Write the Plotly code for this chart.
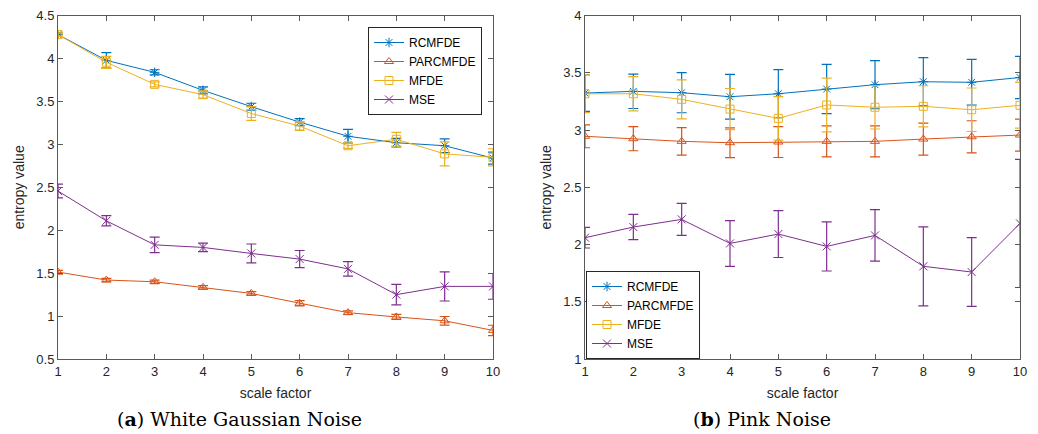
import plotly.graph_objects as go

scale = list(range(1, 11))

# (a) White Gaussian Noise
wgn_rcmfde = [4.28, 3.98, 3.84, 3.63, 3.44, 3.26, 3.095, 3.02, 2.985, 2.84]
wgn_rcmfde_err = [0.02, 0.09, 0.03, 0.04, 0.04, 0.04, 0.08, 0.05, 0.08, 0.07]
wgn_parcmfde = [1.513, 1.42, 1.40, 1.335, 1.264, 1.15, 1.04, 0.99, 0.945, 0.833]
wgn_parcmfde_err = [0.02, 0.02, 0.02, 0.02, 0.02, 0.03, 0.02, 0.03, 0.05, 0.06]
wgn_mfde = [4.28, 3.957, 3.70, 3.58, 3.36, 3.214, 2.985, 3.06, 2.89, 2.85]
wgn_mfde_err = [0.02, 0.07, 0.03, 0.04, 0.08, 0.05, 0.03, 0.08, 0.14, 0.10]
wgn_mse = [2.457, 2.11, 1.83, 1.80, 1.73, 1.664, 1.55, 1.25, 1.346, 1.346]
wgn_mse_err = [0.08, 0.06, 0.09, 0.05, 0.11, 0.10, 0.085, 0.12, 0.17, 0.15]

# (b) Pink Noise
pink_rcmfde = [3.324, 3.339, 3.327, 3.292, 3.318, 3.359, 3.397, 3.423, 3.418, 3.46]
pink_rcmfde_err = [0.16, 0.15, 0.175, 0.195, 0.21, 0.215, 0.21, 0.21, 0.2, 0.185]
pink_parcmfde = [2.946, 2.925, 2.902, 2.89, 2.896, 2.902, 2.902, 2.922, 2.942, 2.957]
pink_parcmfde_err = [0.10, 0.105, 0.12, 0.13, 0.135, 0.135, 0.135, 0.14, 0.14, 0.14]
pink_mfde = [3.318, 3.318, 3.269, 3.184, 3.103, 3.22, 3.20, 3.208, 3.178, 3.217]
pink_mfde_err = [0.165, 0.15, 0.17, 0.18, 0.19, 0.235, 0.19, 0.18, 0.19, 0.20]
pink_mse = [2.06, 2.153, 2.22, 2.01, 2.092, 1.984, 2.08, 1.81, 1.76, 2.185]
pink_mse_err = [0.09, 0.11, 0.14, 0.20, 0.205, 0.215, 0.225, 0.345, 0.30, 0.56]

names = ["RCMFDE", "PARCMFDE", "MFDE", "MSE"]
colors = ["#0072BD", "#D95319", "#EDB120", "#7E2F8E"]
symbols = ["asterisk-open", "triangle-up-open", "square-open", "x-thin-open"]

left_series = [(wgn_rcmfde, wgn_rcmfde_err), (wgn_parcmfde, wgn_parcmfde_err),
               (wgn_mfde, wgn_mfde_err), (wgn_mse, wgn_mse_err)]
right_series = [(pink_rcmfde, pink_rcmfde_err), (pink_parcmfde, pink_parcmfde_err),
                (pink_mfde, pink_mfde_err), (pink_mse, pink_mse_err)]

fig = go.Figure()


def add_series(series, xa, ya, leg):
    for i, (vals, errs) in enumerate(series):
        fig.add_trace(go.Scatter(
            x=scale, y=vals, name=names[i], mode="lines+markers",
            line=dict(color=colors[i], width=1),
            marker=dict(symbol=symbols[i], size=8, color=colors[i],
                        line=dict(color=colors[i], width=1)),
            error_y=dict(type="data", array=errs, visible=True, color=colors[i],
                         thickness=1.2, width=5),
            xaxis=xa, yaxis=ya, legend=leg))


add_series(left_series, "x", "y", "legend")
add_series(right_series, "x2", "y2", "legend2")

W, H = 1038, 434
ydom = [1 - 359 / H, 1 - 15.7 / H]
axis_common = dict(
    showline=True, linecolor="#5a5a5a", linewidth=1, mirror="ticks",
    ticks="inside", ticklen=5, tickcolor="#5a5a5a", showgrid=False,
    zeroline=False, automargin=False,
    tickfont=dict(family="Liberation Sans", size=13, color="#262626"),
)

titlefont = dict(family="Liberation Sans", size=14, color="#262626")
legfont = dict(family="Liberation Sans", size=12, color="#000000")

fig.update_layout(
    width=W, height=H,
    margin=dict(l=0, r=0, t=0, b=0, pad=0, autoexpand=False),
    paper_bgcolor="white", plot_bgcolor="white",
    xaxis=dict(domain=[58 / W, 493 / W], range=[1, 10], tickvals=scale,
               title=dict(text="scale factor", font=titlefont, standoff=10),
               anchor="y", **axis_common),
    yaxis=dict(domain=ydom, range=[0.5, 4.5], tickvals=[0.5, 1, 1.5, 2, 2.5, 3, 3.5, 4, 4.5],
               ticktext=["0.5", "1", "1.5", "2", "2.5", "3", "3.5", "4", "4.5"],
               title=dict(text="entropy value", font=titlefont, standoff=8),
               anchor="x", **axis_common),
    xaxis2=dict(domain=[585 / W, 1020 / W], range=[1, 10], tickvals=scale,
                title=dict(text="scale factor", font=titlefont, standoff=10),
                anchor="y2", **axis_common),
    yaxis2=dict(domain=ydom, range=[1, 4], tickvals=[1, 1.5, 2, 2.5, 3, 3.5, 4],
                ticktext=["1", "1.5", "2", "2.5", "3", "3.5", "4"],
                title=dict(text="entropy value", font=titlefont, standoff=8),
                anchor="x2", **axis_common),
    legend=dict(x=482 / W, y=1 - 27 / H, xanchor="right", yanchor="top",
                bgcolor="white", bordercolor="#262626", borderwidth=1,
                font=legfont, tracegroupgap=0),
    legend2=dict(x=586 / W, y=1 - 359 / H, xanchor="left", yanchor="bottom",
                 bgcolor="white", bordercolor="#262626", borderwidth=1,
                 font=legfont, tracegroupgap=0),
    showlegend=True,
    annotations=[
        dict(text="(<b>a</b>) White Gaussian Noise", x=239 / W, y=1 - 419 / H,
             xref="paper", yref="paper", showarrow=False, xanchor="center", yanchor="middle",
             font=dict(family="DejaVu Serif", size=19, color="#000000")),
        dict(text="(<b>b</b>) Pink Noise", x=762 / W, y=1 - 419 / H,
             xref="paper", yref="paper", showarrow=False, xanchor="center", yanchor="middle",
             font=dict(family="DejaVu Serif", size=19, color="#000000")),
    ],
)

fig.write_html("out.html")
